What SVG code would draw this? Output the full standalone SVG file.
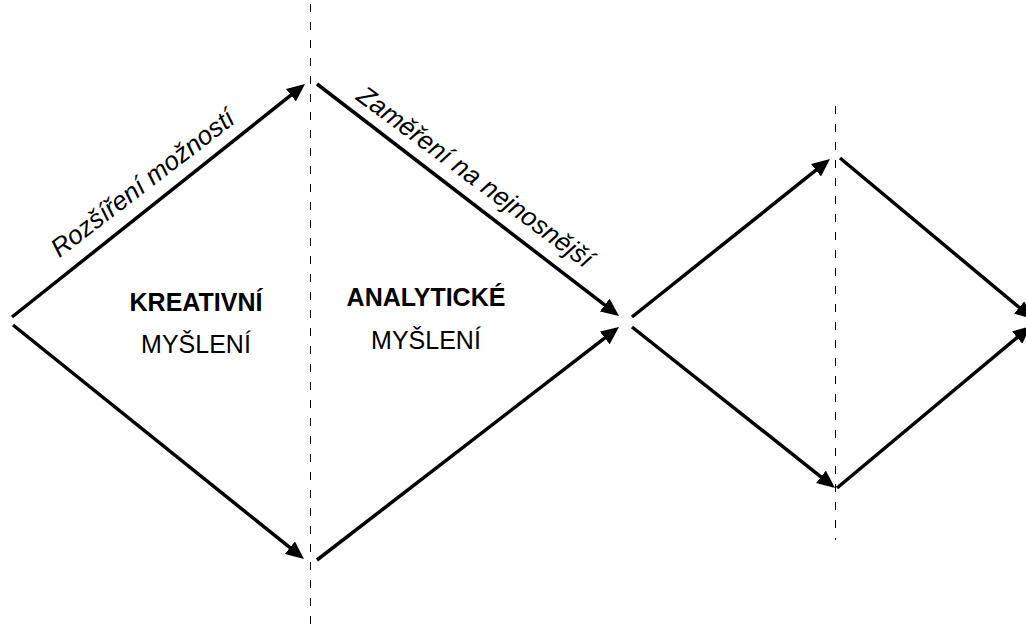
<svg xmlns="http://www.w3.org/2000/svg" width="1026" height="630" viewBox="0 0 1026 630">
<style>
.conn{stroke:#000;stroke-width:3.5;fill:none;marker-end:url(#ah)}
.dash{stroke:#000;stroke-width:1;stroke-dasharray:8 10;fill:none}
.t{font-family:"Liberation Sans",Arial,Helvetica,sans-serif;font-size:25px;fill:#000;text-anchor:middle}
.lbl{font-size:26px;font-style:italic}
.b{font-weight:bold}
</style>
<defs>
<marker id="ah" viewBox="0 0 18 16" refX="8" refY="8" markerWidth="18" markerHeight="16" markerUnits="userSpaceOnUse" orient="auto">
<path d="M0,0 L18,8 L0,16 z" fill="#000"/>
</marker>
</defs>
<rect width="1026" height="630" fill="#fff"/>
<g id="dividers">
<line class="dash" x1="310.5" y1="4" x2="310.5" y2="630"/>
<line class="dash" x1="835.5" y1="106" x2="835.5" y2="540"/>
</g>
<g id="connectors">
<line class="conn" x1="12" y1="317" x2="297.2" y2="90.2"/>
<line class="conn" x1="13" y1="325" x2="296.2" y2="552.7"/>
<line class="conn" x1="317" y1="84" x2="611.1" y2="309.9"/>
<line class="conn" x1="317" y1="560" x2="611.1" y2="333.1"/>
<line class="conn" x1="632" y1="317" x2="822.2" y2="165.2"/>
<line class="conn" x1="632" y1="327" x2="827.2" y2="481.8"/>
<line class="conn" x1="840" y1="158" x2="1025.3" y2="312.6"/>
<line class="conn" x1="837" y1="488" x2="1023.3" y2="332.4"/>
</g>
<g id="label-expand">
<text class="t lbl" transform="translate(148,190) rotate(-37.5)">Rozšíření možností</text>
</g>
<g id="label-focus">
<text class="t lbl" transform="translate(470,184) rotate(36.5)">Zaměření na nejnosnější</text>
</g>
<g id="node-creative">
<text class="t b" x="196" y="311">KREATIVNÍ</text>
<text class="t" x="196" y="353">MYŠLENÍ</text>
</g>
<g id="node-analytic">
<text class="t b" x="426" y="306">ANALYTICKÉ</text>
<text class="t" x="426" y="349">MYŠLENÍ</text>
</g>
</svg>
